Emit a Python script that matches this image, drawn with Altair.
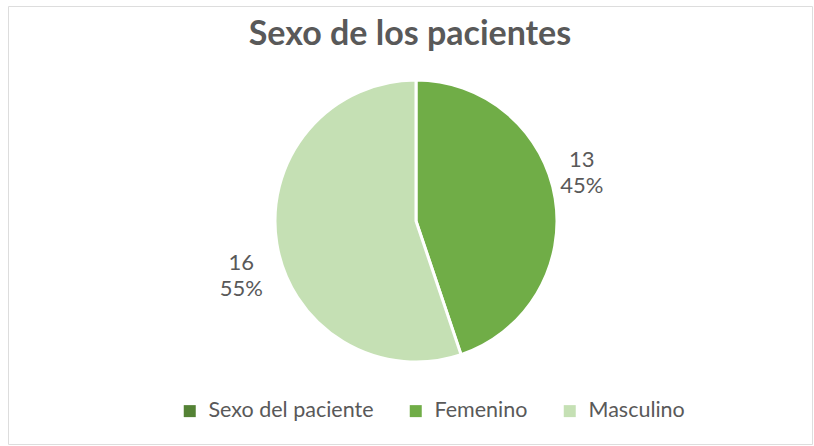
import altair as alt
import pandas as pd

# Data
sexo = ["Femenino", "Masculino"]
pacientes = [13, 16]
legend_domain = ["Sexo del paciente", "Femenino", "Masculino"]
legend_colors = ["#548235", "#70AD47", "#C5E0B4"]
title_text = "Sexo de los pacientes"

df = pd.DataFrame({"sexo": sexo, "pacientes": pacientes, "orden": list(range(len(sexo)))})

FONT = "Lato"
GRAY = "#595959"
CX, CY = 408, 215

base = alt.Chart(df).transform_joinaggregate(
    total="sum(pacientes)"
).transform_calculate(
    etiqueta="datum.pacientes + '\\n' + format(datum.pacientes / datum.total, '.0%')",
)

theta = alt.Theta("pacientes:Q", stack=True)
order = alt.Order("orden:Q", sort="ascending")

arcs = base.mark_arc(outerRadius=141, stroke="white", strokeWidth=3).encode(
    theta=theta,
    order=order,
    color=alt.Color(
        "sexo:N",
        scale=alt.Scale(domain=legend_domain, range=legend_colors),
        legend=alt.Legend(
            title=None,
            orient="none",
            direction="horizontal",
            legendX=171,
            legendY=394,
            symbolType="square",
            symbolSize=144,
            symbolStrokeWidth=0,
            labelFontSize=21.5,
            labelFont=FONT,
            labelColor=GRAY,
            labelOffset=8,
            labelLimit=400,
            columnPadding=31,
            padding=0,
            columns=3,
        ),
    ),
    x=alt.value(CX),
    y=alt.value(CY),
)

def label_layer(name, dx, dy):
    return base.mark_text(
        radius=172, fontSize=22, font=FONT, color=GRAY, lineBreak="\n",
        lineHeight=26, dx=dx, dy=dy, align="center", baseline="middle",
    ).encode(
        theta=theta,
        order=order,
        text="etiqueta:N",
        x=alt.value(CX),
        y=alt.value(CY),
        opacity=alt.condition(alt.datum.sexo == name, alt.value(1), alt.value(0)),
    )

lab_f = label_layer("Femenino", -4, -33)
lab_m = label_layer("Masculino", -5, 14)

chart = alt.layer(arcs, lab_f, lab_m).properties(
    width=804,
    height=438,
    padding={"left": 8, "top": 6, "right": 2, "bottom": 2},
    autosize=alt.AutoSizeParams(type="none"),
    title=alt.TitleParams(
        title_text, fontSize=34, font=FONT, fontWeight="bold", color=GRAY,
        anchor="middle", offset=-46,
    ),
).configure_view(stroke="#e4e4e4", strokeWidth=1).configure(background="white")

chart.save("out.html", embed_options={"renderer": "svg", "actions": False})
